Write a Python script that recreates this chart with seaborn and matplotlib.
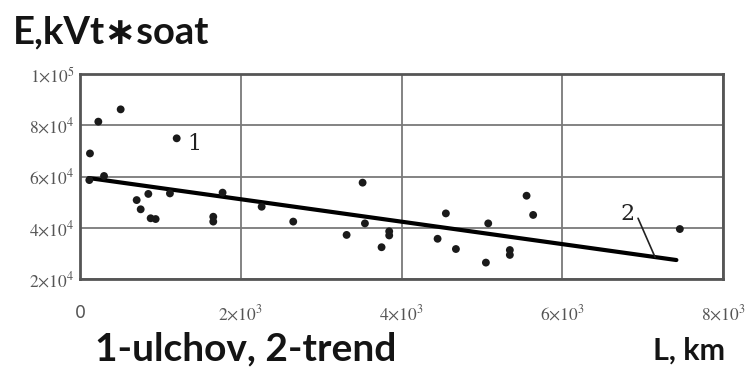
import matplotlib
matplotlib.use("Agg")
import matplotlib.pyplot as plt
import seaborn as sns
import pandas as pd

# Measured points: line length L (km) vs energy E (kVt*soat)
L_km = [116, 124, 228, 299, 506, 705, 755, 850, 879, 941, 1119, 1203,
        1658, 1658, 1774, 2260, 2653, 3317, 3516, 3545, 3752, 3847, 3847,
        4449, 4552, 4677, 5050, 5079, 5348, 5348, 5556, 5638, 7463]
E_kwh = [58600, 69000, 81400, 60200, 86200, 50800, 47200, 53200, 43700,
         43400, 53400, 74900, 44300, 42400, 53700, 48200, 42400, 37200,
         57600, 41700, 32400, 38600, 37000, 35700, 45600, 31700, 26400,
         41700, 31300, 29400, 52500, 45000, 39500]

# Linear trend endpoints
trend_L = [110, 7420]
trend_E = [59400, 27400]

x_ticks = [0, 2000, 4000, 6000, 8000]
x_tick_labels = ["0", r"$2{\times}10^3$", r"$4{\times}10^3$", r"$6{\times}10^3$", r"$8{\times}10^3$"]
y_ticks = [20000, 40000, 60000, 80000, 100000]
y_tick_labels = [r"$2{\times}10^4$", r"$4{\times}10^4$", r"$6{\times}10^4$", r"$8{\times}10^4$", r"$1{\times}10^5$"]

sns.set_style("white")
plt.rcParams["mathtext.fontset"] = "stix"

points = pd.DataFrame({"L": L_km, "E": E_kwh})
trend = pd.DataFrame({"L": trend_L, "E": trend_E})

fig = plt.figure(figsize=(7.53, 3.67), dpi=100)
ax = fig.add_axes([80 / 753, 88 / 367, 643 / 753, 205 / 367])

sns.lineplot(data=trend, x="L", y="E", ax=ax, color="black", linewidth=3.0, zorder=3)
sns.scatterplot(data=points, x="L", y="E", ax=ax, color="#1a1a1a", s=32,
                edgecolor="none", zorder=4)

ax.set_xlim(0, 8000)
ax.set_ylim(20000, 100000)
ax.set_xticks(x_ticks)
ax.set_xticklabels(x_tick_labels)
ax.set_yticks(y_ticks)
ax.set_yticklabels(y_tick_labels)
ax.set_xlabel("")
ax.set_ylabel("")
ax.tick_params(axis="both", length=0, labelsize=12.5, colors="#555555")
ax.tick_params(axis="x", pad=18)
ax.tick_params(axis="y", pad=4)

ax.grid(True, color="#7a7a7a", linewidth=1.3)
ax.set_axisbelow(True)
for sp in ax.spines.values():
    sp.set_visible(True)
    sp.set_color("#555555")
    sp.set_linewidth(2.0)

# Curve markers
ax.text(1330, 72500, "1", fontsize=16, family="DejaVu Serif", color="#222222",
        ha="left", va="center")
ax.text(6720, 45200, "2", fontsize=16, family="DejaVu Serif", color="#222222",
        ha="left", va="center")
ax.plot([6943, 7155], [43700, 28500], color="#222222", linewidth=1.2, zorder=3)

# Axis captions
caption_fonts = ["Lato", "DejaVu Sans"]
fig.text(13 / 753, 1 - 43 / 367, "E,kVt\u2217soat", fontsize=27.5, fontweight="bold",
         family=caption_fonts, color="#141414", ha="left", va="baseline")
fig.text(95 / 753, 1 - 360 / 367, "1-ulchov, 2-trend", fontsize=28, fontweight="bold",
         family=caption_fonts, color="#141414", ha="left", va="baseline")
fig.text(725 / 753, 1 - 360 / 367, "L, km", fontsize=22, fontweight="bold",
         family=caption_fonts, color="#141414", ha="right", va="baseline")

fig.savefig("out.png", dpi=100, facecolor="white")
